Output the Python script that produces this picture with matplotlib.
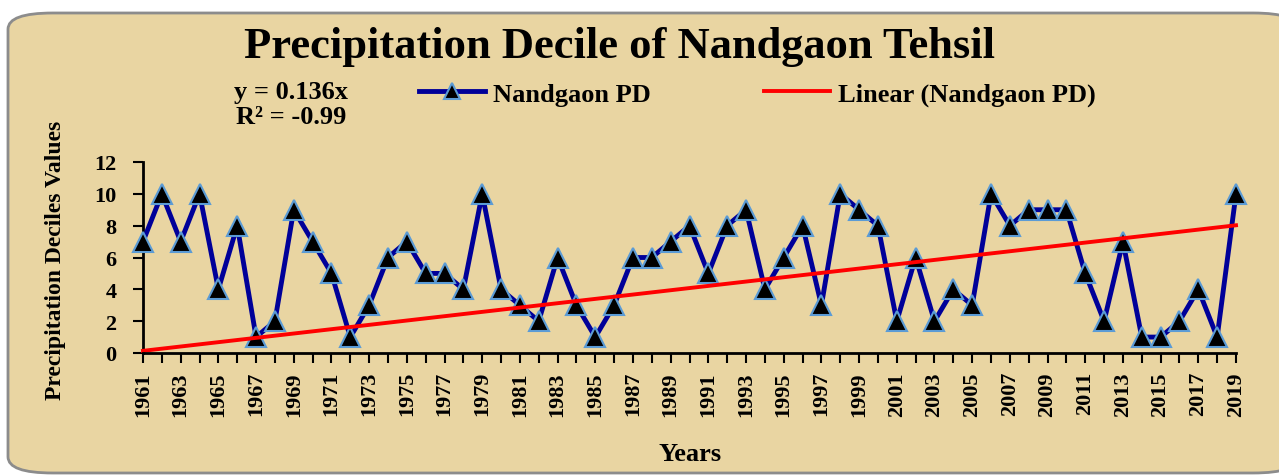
import numpy as np
import matplotlib.pyplot as plt
from matplotlib.patches import FancyBboxPatch
from matplotlib.lines import Line2D

# ---- data ----
years = list(range(1961, 2020))
pd_values = [7, 10, 7, 10, 4, 8, 1, 2, 9, 7,
             5, 1, 3, 6, 7, 5, 5, 4, 10, 4,
             3, 2, 6, 3, 1, 3, 6, 6, 7, 8,
             5, 8, 9, 4, 6, 8, 3, 10, 9, 8,
             2, 6, 2, 4, 3, 10, 8, 9, 9, 9,
             5, 2, 7, 1, 1, 2, 4, 1, 10]
trend_slope = 0.136
equation_text = "y = 0.136x\nR² = -0.99"

plt.rcParams['font.family'] = ['Liberation Serif', 'DejaVu Serif']
plt.rcParams['font.weight'] = 'bold'

BG = '#E9D5A2'

fig = plt.figure(figsize=(12.79, 4.77), dpi=100)
fig.patch.set_facecolor('white')

# rounded chart frame
frame = FancyBboxPatch((8 / 1279, 3 / 477), 1290 / 1279, 460 / 477,
                       boxstyle='round,pad=0,rounding_size=0.035',
                       transform=fig.transFigure, facecolor=BG,
                       edgecolor='#8C8C8C', linewidth=2, zorder=-5,
                       mutation_aspect=477 / 1279 * 2.6)
fig.patches.append(frame)

ax = fig.add_axes([143 / 1279, 1 - 354 / 477, (1236 - 143) / 1279, (354 - 163) / 477])
ax.set_facecolor('none')
ax.set_zorder(2)

x = np.array(years)
trend = trend_slope * (np.arange(len(years)) + 1)

ax.plot(x, pd_values, color='#000099', linewidth=3.5, marker='^',
        markersize=15, markerfacecolor='black', markeredgecolor='#5B9BD5',
        markeredgewidth=1.5, zorder=3, clip_on=False)
ax.plot(x, trend, color='#FF0000', linewidth=2.8, zorder=4, clip_on=False)

ax.set_xlim(1961, 2019)
ax.set_ylim(0, 12)
ax.set_yticks(range(0, 13, 2))
ax.set_xticks(years)
ax.set_xticklabels([str(y) if (y - 1961) % 2 == 0 else '' for y in years],
                   rotation=90, fontsize=16, fontweight='bold')
ax.set_yticklabels([str(v) for v in range(0, 13, 2)], fontsize=16, fontweight='bold')
ax.tick_params(axis='y', direction='out', length=7, width=1.5, pad=12)
ax.tick_params(axis='x', direction='out', length=7, width=1.5, pad=6)

for side in ['top', 'right']:
    ax.spines[side].set_visible(False)
for side in ['left', 'bottom']:
    ax.spines[side].set_linewidth(2)
ax.spines['bottom'].set_zorder(5)

fig.text(620 / 1279, 1 - 47 / 477, 'Precipitation Decile of Nandgaon Tehsil',
         ha='center', va='center', fontsize=32, fontweight='bold')
fig.text(291 / 1279, 1 - 105 / 477, equation_text, ha='center', va='center',
         fontsize=19, fontweight='bold', linespacing=1.1)

handles = [
    Line2D([], [], color='#000099', linewidth=3.5, marker='^', markersize=12,
           markerfacecolor='black', markeredgecolor='#5B9BD5', markeredgewidth=1.5),
    Line2D([], [], color='#FF0000', linewidth=2.8),
]
fig.legend(handles, ['Nandgaon PD', 'Linear (Nandgaon PD)'],
           loc='center left', bbox_to_anchor=(395 / 1279, 1 - 95 / 477),
           ncol=2, frameon=False, handlelength=2.5,
           handletextpad=0.3, columnspacing=4.3,
           prop={'weight': 'bold', 'size': 19})

fig.text(690 / 1279, 1 - 455 / 477, 'Years', ha='center', va='center',
         fontsize=19, fontweight='bold')
fig.text(55 / 1279, 1 - 260 / 477, 'Precipitation Deciles Values', ha='center',
         va='center', rotation=90, fontsize=17, fontweight='bold')

fig.savefig('out.png', dpi=100, facecolor=fig.get_facecolor())
